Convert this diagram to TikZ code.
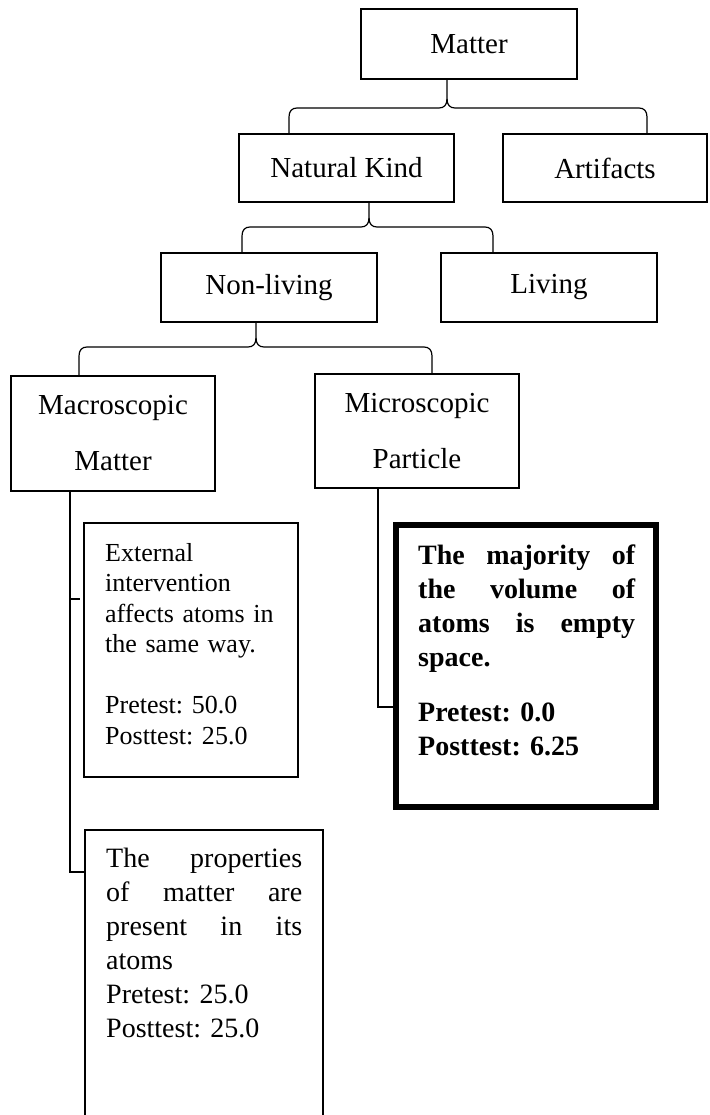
\documentclass[tikz,border=0pt]{standalone}
\usepackage{fontspec}
\setmainfont{Liberation Serif}
\usetikzlibrary{calc}
\frenchspacing
\newcommand{\treebrace}[4]{%
  \draw[conn] (#1.south -| #4c) -- ($(#4c)+(0,-9)$)
    .. controls ($(#4c)+(0,-3)$) and ($(#4c)+(-3,0)$) .. ($(#4c)+(-8,0)$)
    -- ($(#4l)+(8,0)$)
    .. controls ($(#4l)+(3,0)$) and ($(#4l)+(0,3)$) .. ($(#4l)+(0,9)$)
    -- (#2.north -| #4l);
  \draw[conn] ($(#4c)+(0,-9)$)
    .. controls ($(#4c)+(0,-3)$) and ($(#4c)+(3,0)$) .. ($(#4c)+(8,0)$)
    -- ($(#4r)+(-8,0)$)
    .. controls ($(#4r)+(-3,0)$) and ($(#4r)+(0,3)$) .. ($(#4r)+(0,9)$)
    -- (#3.north -| #4r);
}
\begin{document}
\frenchspacing
\begin{tikzpicture}[x=1pt,y=-1pt,
  topbox/.style={draw, line width=2.2pt, inner sep=0pt, align=center,
    font=\fontsize{29}{34}\selectfont},
  twoline/.style={font=\fontsize{29}{56}\selectfont},
  plainbox/.style={draw, line width=2.2pt, inner sep=0pt},
  boldbox/.style={draw, line width=6pt, inner sep=0pt},
  txt/.style={anchor=base west, inner sep=0pt, align=left},
  conn/.style={line width=1.2pt, black}]
\useasboundingbox (0,0) rectangle (709,1115);
\fill[white] (0,0) rectangle (709,1115);
\begin{scope}
\clip (0,0) rectangle (709,1115);
% boxes
\node[topbox, minimum width=216, minimum height=70] (matter) at (469,44) {Matter};
\node[topbox, minimum width=215, minimum height=68] (nk) at (346.5,168) {Natural Kind};
\node[topbox, minimum width=204, minimum height=68] (art) at (605,168) {Artifacts};
\node[topbox, minimum width=216, minimum height=69] (nonliving) at (269,287.5) {Non-living};
\node[topbox, minimum width=216, minimum height=69] (living) at (549,287.5) {Living};
\node[topbox, twoline, minimum width=204, minimum height=115] (macro) at (113,433.5) {Macroscopic\\Matter};
\node[topbox, twoline, minimum width=204, minimum height=114] (micro) at (417,431) {Microscopic\\Particle};
\node[plainbox, minimum width=214, minimum height=254] (box1) at (191,650) {};
\node[boldbox, minimum width=260, minimum height=282] (bold) at (526,666) {};
\node[plainbox, minimum width=238, minimum height=330] (box2) at (204,995) {};
% texts
\node[txt, text width=190, font=\frenchspacing\fontsize{26}{30.5}\selectfont] (t1) at (105,561)
  {External\\intervention\\affects atoms in\\the same way.\\[30.5pt]Pretest: 50.0\\Posttest: 25.0};
\node[txt, text width=217, font=\frenchspacing\bfseries\fontsize{28}{34}\selectfont] (t2) at (418,564)
  {The\hfill majority\hfill of\\the\hfill volume\hfill of\\atoms\hfill is\hfill empty\\space.\\[21pt]Pretest: 0.0\\Posttest: 6.25};
\node[txt, text width=196, font=\frenchspacing\fontsize{28}{34}\selectfont] (t3) at (106,867)
  {The\hfill properties\\of\hfill matter\hfill are\\present\hfill in\hfill its\\atoms\\Pretest: 25.0\\Posttest: 25.0};
% brace coordinates
\coordinate (b1c) at (447,108); \coordinate (b1l) at (289,108); \coordinate (b1r) at (647,108);
\coordinate (b2c) at (369,227); \coordinate (b2l) at (242,227); \coordinate (b2r) at (493,227);
\coordinate (b3c) at (256,347); \coordinate (b3l) at (79,347);  \coordinate (b3r) at (432,347);
\treebrace{matter}{nk}{art}{b1}
\treebrace{nk}{nonliving}{living}{b2}
\treebrace{nonliving}{macro}{micro}{b3}
% elbow connectors
\coordinate (j1) at (70,599); \coordinate (k1) at (80,599);
\coordinate (j2) at (70,872);
\coordinate (j3) at (378,707);
\draw[conn] (macro.south -| j1) -- (j2) -- (box2.west |- j2);
\draw[conn] (j1) -- (k1);
\draw[conn] (micro.south -| j3) -- (j3) -- (bold.west |- j3);
\end{scope}
\end{tikzpicture}
\end{document}
